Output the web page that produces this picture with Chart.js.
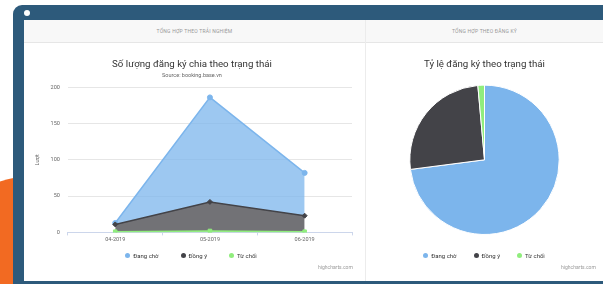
<!DOCTYPE html>
<html>
<head>
<meta charset="utf-8">
<script src="https://cdn.jsdelivr.net/npm/chart.js@4.4.1/dist/chart.umd.min.js"></script>
<style>
  html, body { margin: 0; padding: 0; width: 603px; height: 284px; overflow: hidden; background: #fff; font-family: Roboto, sans-serif; }
  #blob { position: absolute; left: -85px; top: 175px; width: 250px; height: 250px; border-radius: 50%; background: #f26a22; }
  #frame { position: absolute; left: 13px; top: 5px; width: 620px; height: 300px; border-radius: 9px; background: #2d5a7b; }
  #dot { position: absolute; left: 24px; top: 10px; width: 6px; height: 6px; border-radius: 50%; background: #fff; }
  .panel { position: absolute; top: 20px; height: 261px; background: #fff; }
  .head { height: 22px; line-height: 22px; background: #f8f8f8; border-bottom: 1px solid #e6e6e6; text-align: center; font-size: 5px; color: #999; letter-spacing: 0.2px; }
  .credits { position: absolute; font-size: 5px; color: #999; }
  .legend { position: absolute; top: 251px; height: 8px; display: flex; justify-content: center; font-size: 6px; color: #333; }
  .legend span { display: flex; align-items: center; white-space: nowrap; }
  .legend i { display: inline-block; width: 5px; height: 5px; border-radius: 50%; margin-right: 3px; }
  canvas { position: absolute; }
</style>
</head>
<body>
<div id="blob"></div>
<div id="frame"></div>
<div id="dot"></div>
<div class="panel" style="left:24px;width:341px;border-right:1px solid #ececec;">
  <div class="head">TỔNG HỢP THEO TRẢI NGHIỆM</div>
</div>
<div class="panel" style="left:366px;width:237px;">
  <div class="head">TỔNG HỢP THEO ĐĂNG KÝ</div>
</div>
<canvas id="areaChart" style="left:24px;top:43px;" width="340" height="238"></canvas>
<canvas id="pieChart" style="left:366px;top:43px;" width="237" height="238"></canvas>
<div class="legend" id="areaLegend" style="left:21px;width:340px;"></div>
<div class="legend" id="pieLegend" style="left:364px;width:240px;"></div>
<div class="credits" style="left:318px;top:264px;">highcharts.com</div>
<div class="credits" style="left:561px;top:264px;">highcharts.com</div>

<script>
// categories and series
var months = ['04-2019', '05-2019', '06-2019'];
var dangCho = [2, 144, 59];   // Đang chờ
var dongY = [10, 40, 22];     // Đồng ý
var tuChoi = [1, 2, 1];       // Từ chối
var statusLabels = ['Đang chờ', 'Đồng ý', 'Từ chối'];
var pieValues = [205, 72, 4];
var yTicks = [0, 50, 100, 150, 200];

var colBlue = '#7cb5ec', colDark = '#434348', colGreen = '#90ed7d';
var statusColors = [colBlue, colDark, colGreen];
var font = 'Roboto';

// html legends, same look as highcharts
function buildLegend(id, gap) {
    var el = document.getElementById(id);
    statusLabels.forEach(function (lbl, i) {
        var s = document.createElement('span');
        if (i > 0) s.style.marginLeft = gap + 'px';
        s.innerHTML = '<i style="background:' + statusColors[i] + '"></i>' + lbl;
        el.appendChild(s);
    });
}
buildLegend('areaLegend', 22);
buildLegend('pieLegend', 17);

// area chart - stacked, green at bottom, blue on top
var ctxA = document.getElementById('areaChart').getContext('2d');
var areaChart = new Chart(ctxA, {
    type: 'line',
    data: {
        labels: months,
        datasets: [{
            label: statusLabels[2],
            data: tuChoi,
            borderColor: colGreen,
            backgroundColor: 'rgba(144,237,125,0.75)',
            pointBackgroundColor: colGreen,
            pointStyle: 'rect',
            fill: 'origin'
        }, {
            label: statusLabels[1],
            data: dongY,
            borderColor: colDark,
            backgroundColor: 'rgba(67,67,72,0.75)',
            pointBackgroundColor: colDark,
            pointStyle: 'rectRot',
            fill: '-1'
        }, {
            label: statusLabels[0],
            data: dangCho,
            borderColor: colBlue,
            backgroundColor: 'rgba(124,181,236,0.75)',
            pointBackgroundColor: colBlue,
            pointStyle: 'circle',
            fill: '-1'
        }]
    },
    options: {
        responsive: false,
        animation: false,
        elements: {
            line: { borderWidth: 1.5, tension: 0 },
            point: { radius: 2.5, borderWidth: 1, borderColor: '#888' }
        },
        layout: { padding: { left: 8, right: 12, top: 0, bottom: 38 } },
        plugins: {
            title: {
                display: true,
                text: 'Số lượng đăng ký chia theo trạng thái',
                color: '#333',
                font: { family: font, size: 9.7, weight: 'normal' },
                padding: { top: 16, bottom: 0 }
            },
            subtitle: {
                display: true,
                text: 'Source: booking.base.vn',
                color: '#666',
                font: { family: font, size: 5.5 },
                padding: { top: 2, bottom: 8 }
            },
            legend: { display: false },
            tooltip: { enabled: false }
        },
        scales: {
            x: {
                offset: true,
                grid: { display: true, drawOnChartArea: false, tickLength: 3, color: '#ccd6eb', offset: true },
                border: { color: '#ccd6eb' },
                ticks: { color: '#666', font: { family: font, size: 5.5 }, padding: 0.5, maxRotation: 0 }
            },
            y: {
                stacked: true,
                min: 0,
                max: 200,
                afterBuildTicks: function (axis) {
                    axis.ticks = yTicks.map(function (v) { return { value: v }; });
                },
                grid: { color: '#e6e6e6', drawTicks: false },
                border: { display: false },
                ticks: { color: '#666', font: { family: font, size: 5.5 }, padding: 8 },
                title: { display: true, text: 'Lượt', color: '#666', font: { family: font, size: 5.5 }, padding: 2 }
            }
        }
    }
});

// pie chart
var ctxP = document.getElementById('pieChart').getContext('2d');
var pieChart = new Chart(ctxP, {
    type: 'pie',
    data: {
        labels: statusLabels,
        datasets: [{
            data: pieValues,
            backgroundColor: statusColors,
            borderColor: '#fff',
            borderWidth: 1
        }]
    },
    options: {
        responsive: false,
        animation: false,
        layout: { padding: { left: 0, right: 0, top: 0, bottom: 46 } },
        plugins: {
            title: {
                display: true,
                text: 'Tỷ lệ đăng ký theo trạng thái',
                color: '#333',
                font: { family: font, size: 9.7, weight: 'normal' },
                padding: { top: 16, bottom: 14 }
            },
            legend: { display: false },
            tooltip: { enabled: false }
        }
    }
});
</script>
</body>
</html>
